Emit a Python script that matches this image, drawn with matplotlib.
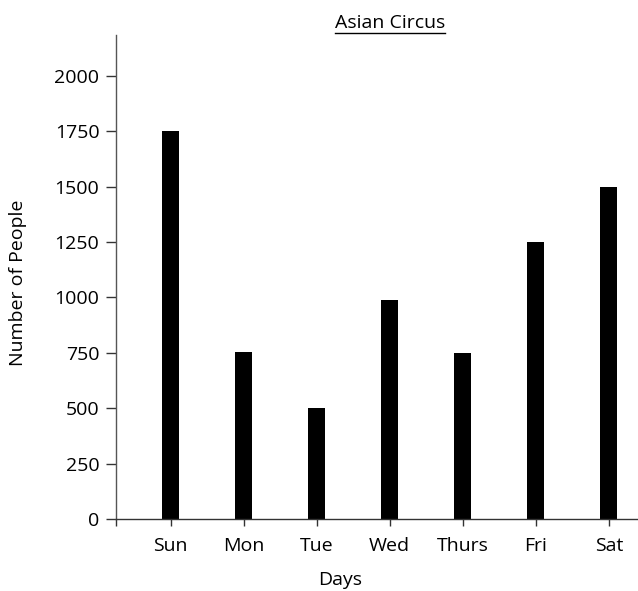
import matplotlib
matplotlib.use("Agg")
import matplotlib.pyplot as plt
from matplotlib.lines import Line2D

plt.rcParams['font.family'] = ['Open Sans', 'DejaVu Sans']

days = ["Sun", "Mon", "Tue", "Wed", "Thurs", "Fri", "Sat"]
people = [1750, 755, 500, 990, 750, 1250, 1500]
y_ticks = [0, 250, 500, 750, 1000, 1250, 1500, 1750, 2000]

W, H = 638, 591
fig = plt.figure(figsize=(W / 100, H / 100), dpi=100)
ax = fig.add_axes([116 / W, (H - 519) / H, (638 - 116) / W, (519 - 35) / H])

x = list(range(len(days)))
ax.bar(x, people, width=0.23, color="black", zorder=2)

ax.set_xlim(-0.75, 6.4)
ax.set_ylim(0, 2185)

ax.set_yticks(y_ticks)
ax.set_yticklabels([str(v) for v in y_ticks])
ax.set_xticks([-0.75] + x)
ax.set_xticklabels([""] + days)

for s in ["top", "right"]:
    ax.spines[s].set_visible(False)
ax.spines["left"].set_color("#555555")
ax.spines["left"].set_linewidth(1.0)
ax.spines["bottom"].set_color("#333333")
ax.spines["bottom"].set_linewidth(1.0)

ax.tick_params(axis="y", direction="out", length=7, width=1, color="#333333",
               labelsize=14, pad=5, labelcolor="black")
ax.tick_params(axis="x", direction="out", length=5, width=1, color="#333333",
               labelsize=14, pad=8, labelcolor="black")

fig.text(340 / W, 1 - 580 / H, "Days", ha="center", va="center", fontsize=14)
fig.text(18 / W, 1 - 283 / H, "Number of People", ha="center", va="center",
         rotation=90, fontsize=14)

# underlined title
title = fig.text(390 / W, 1 - 23 / H, "Asian Circus", ha="center", va="center",
                 fontsize=14)
fig.canvas.draw()
bb = title.get_window_extent(renderer=fig.canvas.get_renderer())
uy = (H - 33) / H
fig.add_artist(Line2D([bb.x0 / W, bb.x1 / W], [uy, uy], transform=fig.transFigure,
                      color="black", linewidth=1.0))

fig.savefig("out.png", dpi=100)
